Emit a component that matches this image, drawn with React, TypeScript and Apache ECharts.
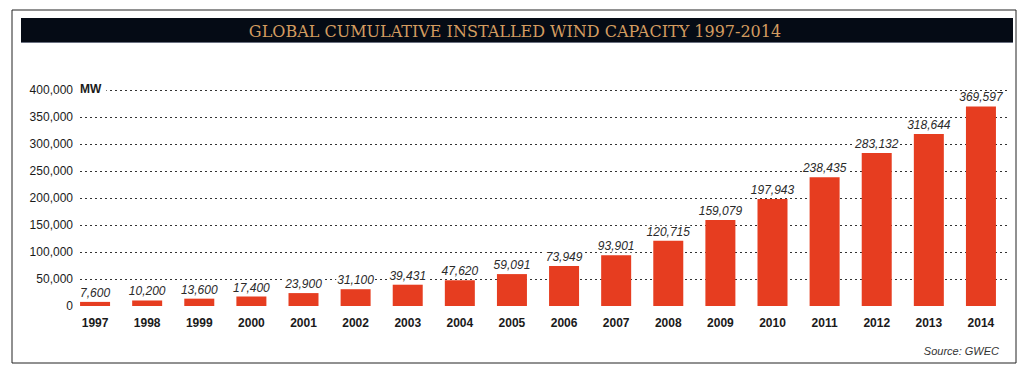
import React, { useEffect, useRef } from "react";
import * as echarts from "echarts";

const years = ["1997","1998","1999","2000","2001","2002","2003","2004","2005","2006","2007","2008","2009","2010","2011","2012","2013","2014"];
const capacity = [7600,10200,13600,17400,23900,31100,39431,47620,59091,73949,93901,120715,159079,197943,238435,283132,318644,369597];
const titleText = "GLOBAL CUMULATIVE INSTALLED WIND CAPACITY 1997-2014";
const unitText = "MW";
const sourceText = "Source: GWEC";

const FONT = "'Liberation Sans', Arial, sans-serif";

export default function App() {
  const ref = useRef<HTMLDivElement>(null);
  useEffect(() => {
    if (!ref.current) return;
    const chart = echarts.init(ref.current, null, { renderer: "svg" });
    chart.setOption({
      animation: false,
      backgroundColor: "#ffffff",
      grid: [
        { left: 69, right: 16, top: 90, bottom: 64 },
        { left: 80, right: 16, top: 90, bottom: 64 },
      ],
      xAxis: [
        {
          type: "category",
          gridIndex: 0,
          data: years,
          axisLine: { show: false },
          axisTick: { show: false },
          axisLabel: { fontFamily: FONT, fontWeight: "bold", fontSize: 12, color: "#1a1a1a", margin: 11 },
        },
        { type: "category", gridIndex: 1, data: years, show: false },
      ],
      yAxis: [
        { type: "value", gridIndex: 0, min: 0, max: 400000, interval: 50000, show: false, splitLine: { show: false } },
        {
          type: "value",
          gridIndex: 1,
          min: 0,
          max: 400000,
          interval: 50000,
          axisLine: { show: false },
          axisTick: { show: false },
          axisLabel: {
            fontFamily: FONT,
            fontSize: 12,
            color: "#1a1a1a",
            margin: 7,
            formatter: (v: number) => v.toLocaleString("en-US"),
          },
          splitLine: {
            show: true,
            lineStyle: { type: [2, 3], color: "#333", width: 1 },
            showMinLine: false,
          },
        },
      ],
      series: [
        {
          type: "bar",
          xAxisIndex: 0,
          yAxisIndex: 0,
          data: capacity,
          barWidth: 30,
          z: 5,
          itemStyle: { color: "#e63d20" },
          label: {
            show: true,
            position: "top",
            distance: 3,
            fontFamily: FONT,
            fontStyle: "italic",
            fontSize: 12,
            color: "#2a2a2a",
            backgroundColor: "#ffffff",
            padding: [0, 1],
            formatter: (p: any) => Number(p.value).toLocaleString("en-US"),
          },
        },
      ],
      graphic: [
        { type: "rect", z: -10, shape: { x: 12, y: 10, width: 1004, height: 353 }, style: { fill: "none", stroke: "#222", lineWidth: 1 } },
        { type: "rect", z: 10, shape: { x: 21, y: 18, width: 992, height: 25 }, style: { fill: "#050b15" } },
        { type: "rect", z: 10, shape: { x: 21, y: 42, width: 992, height: 1 }, style: { fill: "#6a7080" } },
        {
          type: "text",
          z: 11,
          x: 515,
          y: 31,
          style: {
            text: titleText,
            fill: "#d39c60",
            font: "16px 'DejaVu Serif', 'Liberation Serif', serif",
            align: "center",
            verticalAlign: "middle",
          },
        },
        {
          type: "text",
          z: 20,
          x: 80,
          y: 89,
          style: {
            text: unitText,
            fill: "#1a1a1a",
            font: "bold 12px " + FONT,
            align: "left",
            verticalAlign: "middle",
            backgroundColor: "#ffffff",
            padding: [2, 5, 2, 0],
          },
        },
        {
          type: "text",
          z: 20,
          x: 999,
          y: 351,
          style: {
            text: sourceText,
            fill: "#333",
            font: "italic 11px " + FONT,
            align: "right",
            verticalAlign: "middle",
          },
        },
      ],
    });
    return () => chart.dispose();
  }, []);
  return <div ref={ref} style={{ position: "fixed", left: 0, top: 0, width: 1023, height: 370 }} />;
}
